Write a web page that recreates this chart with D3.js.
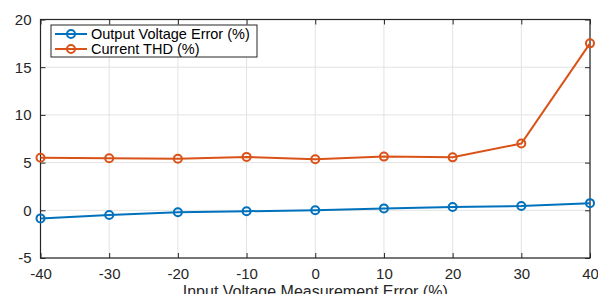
<!DOCTYPE html>
<html>
<head>
<meta charset="utf-8">
<script src="https://cdn.jsdelivr.net/npm/d3@7"></script>
<style>
  body { margin: 0; background: #fff; }
  svg { display: block; font-family: "Liberation Sans", Arial, sans-serif; }
</style>
</head>
<body>
<svg></svg>
<script>
// data
const errors = [-40, -30, -20, -10, 0, 10, 20, 30, 40];
const outputVoltageError = [-0.85, -0.5, -0.2, -0.1, 0, 0.2, 0.35, 0.45, 0.75];
const currentTHD = [5.5, 5.45, 5.4, 5.6, 5.35, 5.63, 5.55, 7.0, 17.5];
const xTicks = [-40, -30, -20, -10, 0, 10, 20, 30, 40];
const yTicks = [-5, 0, 5, 10, 15, 20];
const seriesNames = ["Output Voltage Error (%)", "Current THD (%)"];
const seriesColors = ["#0072BD", "#D95319"];

const W = 598, H = 294;
const margin = { top: 19.5, right: 8, bottom: 36, left: 40.5 };
const width = W - margin.left - margin.right;
const height = H - margin.top - margin.bottom;

const svg = d3.select("svg").attr("width", W).attr("height", H);
const g = svg.append("g").attr("transform", `translate(${margin.left},${margin.top})`);

const x = d3.scaleLinear().domain([-40, 40]).range([0, width]);
const y = d3.scaleLinear().domain([-5, 20]).range([height, 0]);

// plain hyphen for negatives, as in the picture
const fmt = d => String(d);

// grid
g.append("g").selectAll("line").data(xTicks).join("line")
  .attr("x1", d => x(d)).attr("x2", d => x(d))
  .attr("y1", 0).attr("y2", height)
  .attr("stroke", "#e3e3e3").attr("stroke-width", 1);
g.append("g").selectAll("line").data(yTicks).join("line")
  .attr("y1", d => y(d)).attr("y2", d => y(d))
  .attr("x1", 0).attr("x2", width)
  .attr("stroke", "#e3e3e3").attr("stroke-width", 1);

// axes, ticks pointing inward, box on
const axisStyle = sel => {
  sel.select(".domain").remove();
  sel.selectAll(".tick line").attr("stroke", "#262626");
  sel.selectAll(".tick text").attr("fill", "#262626").attr("font-size", 15);
};
g.append("g").attr("transform", `translate(0,${height})`)
  .call(d3.axisBottom(x).tickValues(xTicks).tickSize(-5).tickPadding(10).tickFormat(fmt))
  .call(axisStyle);
g.append("g")
  .call(d3.axisLeft(y).tickValues(yTicks).tickSize(-5).tickPadding(9).tickFormat(fmt))
  .call(axisStyle);
g.append("g")
  .call(d3.axisTop(x).tickValues(xTicks).tickSize(-5).tickFormat(""))
  .call(axisStyle);
g.append("g").attr("transform", `translate(${width},0)`)
  .call(d3.axisRight(y).tickValues(yTicks).tickSize(-5).tickFormat(""))
  .call(axisStyle);
g.append("rect").attr("width", width).attr("height", height)
  .attr("fill", "none").attr("stroke", "#262626").attr("stroke-width", 1.2);

// series
const series = [outputVoltageError, currentTHD];
const line = d3.line().x((d, i) => x(errors[i])).y(d => y(d));
series.forEach((vals, k) => {
  g.append("path").datum(vals).attr("d", line)
    .attr("fill", "none").attr("stroke", seriesColors[k]).attr("stroke-width", 2);
  g.append("g").selectAll("circle").data(vals).join("circle")
    .attr("cx", (d, i) => x(errors[i])).attr("cy", d => y(d)).attr("r", 4)
    .attr("fill", "none").attr("stroke", seriesColors[k]).attr("stroke-width", 2);
});

// x label (cut off at the bottom edge, as in the picture)
svg.append("text")
  .attr("x", margin.left + width / 2).attr("y", 297)
  .attr("text-anchor", "middle").attr("font-size", 16).attr("fill", "#262626")
  .text("Input Voltage Measurement Error (%)");

// legend
const lg = svg.append("g").attr("transform", "translate(51,25)");
lg.append("rect").attr("width", 206).attr("height", 32)
  .attr("fill", "#fff").attr("stroke", "#262626").attr("stroke-width", 1);
seriesNames.forEach((name, k) => {
  const cy = 9 + k * 15;
  lg.append("line").attr("x1", 4).attr("x2", 36).attr("y1", cy).attr("y2", cy)
    .attr("stroke", seriesColors[k]).attr("stroke-width", 2);
  lg.append("circle").attr("cx", 20).attr("cy", cy).attr("r", 4)
    .attr("fill", "none").attr("stroke", seriesColors[k]).attr("stroke-width", 2);
  lg.append("text").attr("x", 40).attr("y", cy).attr("dy", "0.35em")
    .attr("font-size", 14.5).attr("fill", "#000").text(name);
});
</script>
</body>
</html>
